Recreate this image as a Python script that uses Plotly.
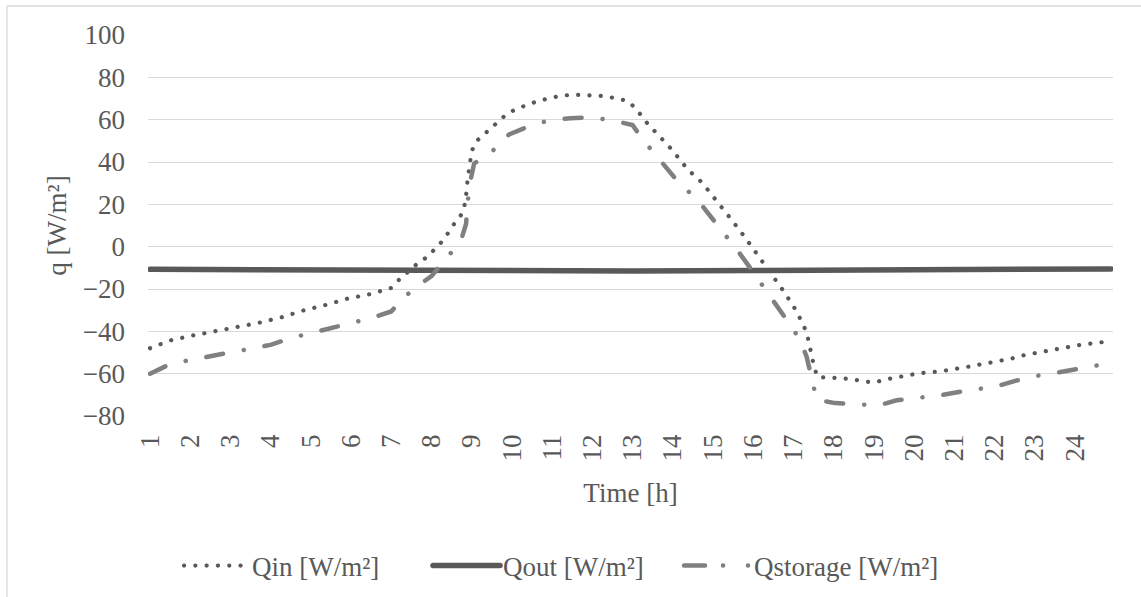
import plotly.graph_objects as go

# Hour-of-day tick labels on the category axis
tick_hours = [1, 2, 3, 4, 5, 6, 7, 8, 9, 10, 11, 12,
              13, 14, 15, 16, 17, 18, 19, 20, 21, 22, 23, 24]
tick_labels = ["1", "2", "3", "4", "5", "6", "7", "8", "9", "10", "11", "12",
               "13", "14", "15", "16", "17", "18", "19", "20", "21", "22", "23", "24"]

# Heat flux entering the surface
qin_hours = [1.0, 1.5, 2.0, 2.6, 3.2, 3.7, 4.3, 4.8, 5.4, 5.9, 6.5, 7.0, 7.2, 7.4,
             7.65, 7.9, 8.1, 8.3, 8.45, 8.6, 8.78, 8.85, 8.9, 8.95, 9.0, 9.1, 9.4,
             9.6, 9.85, 10.1, 10.35, 10.6, 10.9, 11.2, 11.5, 12.0, 12.3, 12.6, 12.85,
             13.05, 13.2, 13.4, 13.6, 13.8, 14.0, 14.2, 14.4, 14.73, 15.08, 15.43,
             15.78, 16.12, 16.45, 16.78, 17.08, 17.33, 17.45, 17.52, 17.6, 18.1, 18.4,
             18.7, 19.0, 19.3, 19.6, 20.1, 20.7, 21.0, 21.3, 21.6, 22.1, 22.4, 22.7,
             23.0, 23.5, 24.1, 24.9]
qin_values = [-48.0, -44.3, -42.2, -40.0, -38.0, -36.0, -33.2, -30.2, -27.4, -24.6,
              -22.3, -19.5, -15.5, -12.0, -8.0, -4.8, -0.8, 3.2, 7.5, 11.8, 16.0,
              22.0, 32.0, 38.0, 45.0, 49.5, 54.4, 58.0, 62.3, 65.0, 67.0, 68.5, 70.0,
              71.2, 71.8, 71.7, 71.2, 70.0, 69.0, 66.0, 62.0, 57.5, 53.6, 49.7, 45.4,
              40.5, 36.0, 30.3, 22.2, 13.5, 4.9, -3.8, -12.9, -21.6, -30.5, -40.4,
              -51.0, -57.0, -61.6, -62.0, -62.4, -63.5, -64.2, -62.7, -61.5, -59.9,
              -58.8, -58.0, -56.9, -55.8, -54.2, -53.0, -51.4, -50.4, -48.4, -46.5,
              -44.6]

# Heat flux leaving the surface
qout_hours = [1.0, 4.0, 7.0, 10.0, 13.0, 16.0, 19.0, 22.0, 24.9]
qout_values = [-10.7, -11.0, -11.3, -11.5, -11.5, -11.3, -11.0, -10.7, -10.5]

# Heat stored in the wall
qsto_hours = [1.0, 1.4, 1.9, 2.4, 2.95, 3.5, 4.0, 4.5, 5.0, 5.5, 6.0, 6.5, 7.0, 7.3,
              7.6, 8.0, 8.35, 8.73, 8.86, 8.9, 8.98, 9.06, 9.54, 9.93, 10.35, 10.9,
              11.45, 11.9, 12.45, 13.0, 13.25, 13.6, 13.95, 14.07, 14.65, 15.0, 15.35,
              15.64, 15.95, 16.29, 16.55, 16.86, 17.17, 17.33, 17.58, 18.04, 18.57,
              19.11, 19.57, 20.12, 20.66, 21.47, 22.0, 22.52, 23.0, 23.54, 24.08,
              24.55, 24.9]
qsto_values = [-60.0, -56.4, -53.9, -52.0, -50.0, -48.3, -46.4, -43.2, -40.9, -38.5,
               -35.8, -33.7, -30.6, -24.2, -19.4, -13.9, -6.0, 2.8, 10.7, 21.0, 32.0,
               39.3, 45.6, 53.0, 56.3, 59.6, 60.7, 61.0, 59.9, 57.5, 50.7, 42.5, 34.5,
               32.1, 21.3, 13.1, 4.4, -2.5, -10.7, -19.4, -26.9, -35.3, -44.0, -52.0,
               -72.3, -73.9, -74.2, -75.0, -72.6, -71.3, -70.2, -67.5, -66.3, -63.4,
               -61.2, -59.6, -57.5, -56.1, -55.0]

FONT = "Liberation Serif"
FS = 27
TEXT = "#595959"
GRID = "#d9d9d9"

W, H = 1141, 597
ML, MR, MT, MB = 148, 28, 35, 181
PW, PH = W - ML - MR, H - MT - MB

txt = dict(family=FONT, size=FS, color=TEXT)

fig = go.Figure()
fig.add_trace(go.Scatter(
    x=qin_hours, y=qin_values, mode="lines", name="Qin [W/m²]",
    line=dict(color="#595959", width=4.2, dash="0.1px,11.2px"),
))
fig.add_trace(go.Scatter(
    x=qout_hours, y=qout_values, mode="lines", name="Qout [W/m²]",
    line=dict(color="#595959", width=5.5),
))
fig.add_trace(go.Scatter(
    x=qsto_hours, y=qsto_values, mode="lines", name="Qstorage [W/m²]",
    line=dict(color="#808080", width=4.5, dash="17px,21px,0.1px,21px"),
))

# chart-area frame (left and top edges)
def px_x(p):
    return (p - ML) / PW

def px_y(p):
    return 1 - (p - MT) / PH

frame = dict(color=GRID, width=1.3)
fig.add_shape(type="line", xref="paper", yref="paper",
              x0=px_x(7), x1=px_x(7), y0=px_y(6), y1=px_y(605), line=frame)
fig.add_shape(type="line", xref="paper", yref="paper",
              x0=px_x(7), x1=px_x(1145), y0=px_y(6), y1=px_y(6), line=frame)

fig.update_layout(
    width=W, height=H,
    margin=dict(l=ML, r=MR, t=MT, b=MB, autoexpand=False),
    paper_bgcolor="white", plot_bgcolor="white",
    font=txt,
    showlegend=True,
    legend=dict(
        orientation="h", xref="container", yref="container",
        x=172 / W, xanchor="left", y=1 - 566 / H, yanchor="middle",
        font=txt, itemwidth=70, tracegroupgap=0,
        entrywidth=166, entrywidthmode="pixels",
    ),
    xaxis=dict(
        range=[0.95, 24.95], tickmode="array", tickvals=tick_hours,
        ticktext=tick_labels, tickangle=-90, showgrid=False, zeroline=False,
        showline=False, ticks="", ticklabelstandoff=12, tickfont=txt,
        title=dict(text="Time [h]", standoff=22, font=txt),
        automargin=False,
    ),
    yaxis=dict(
        range=[-80, 100], tickmode="array",
        tickvals=[-80, -60, -40, -20, 0, 20, 40, 60, 80, 100],
        showgrid=True, gridcolor=GRID, gridwidth=1.3, zeroline=False,
        showline=False, ticks="", ticklabelstandoff=22, tickfont=txt,
        title=dict(text="q [W/m²]", standoff=8, font=txt),
        automargin=False,
    ),
)

# round line caps so dotted and dash-dot strokes draw as round dots,
# longer legend samples sitting right before each label, and no clipping
# of the last legend label
post = """
var gd = document.getElementsByClassName('plotly-graph-div')[0];
var samples = ['M12,0h58', 'M10,0h67', 'M10,0h64'];
var sampleDash = [null, null, '21px,18px,0.1px,24.9px,0.1px,100px'];
function styleLines(){
  gd.querySelectorAll('path.js-line').forEach(function(p){
    p.style.strokeLinecap = 'round';
  });
  gd.querySelectorAll('.legend .traces').forEach(function(g, i){
    var p = g.querySelector('path.js-line');
    if (p && samples[i]) p.setAttribute('d', samples[i]);
    if (p && sampleDash[i]) p.style.strokeDasharray = sampleDash[i];
  });
  gd.querySelectorAll('.legend .scrollbox').forEach(function(s){
    s.removeAttribute('clip-path');
    s.style.clipPath = 'none';
  });
}
styleLines();
gd.on('plotly_afterplot', styleLines);
"""

fig.write_html("out.html", post_script=post)
